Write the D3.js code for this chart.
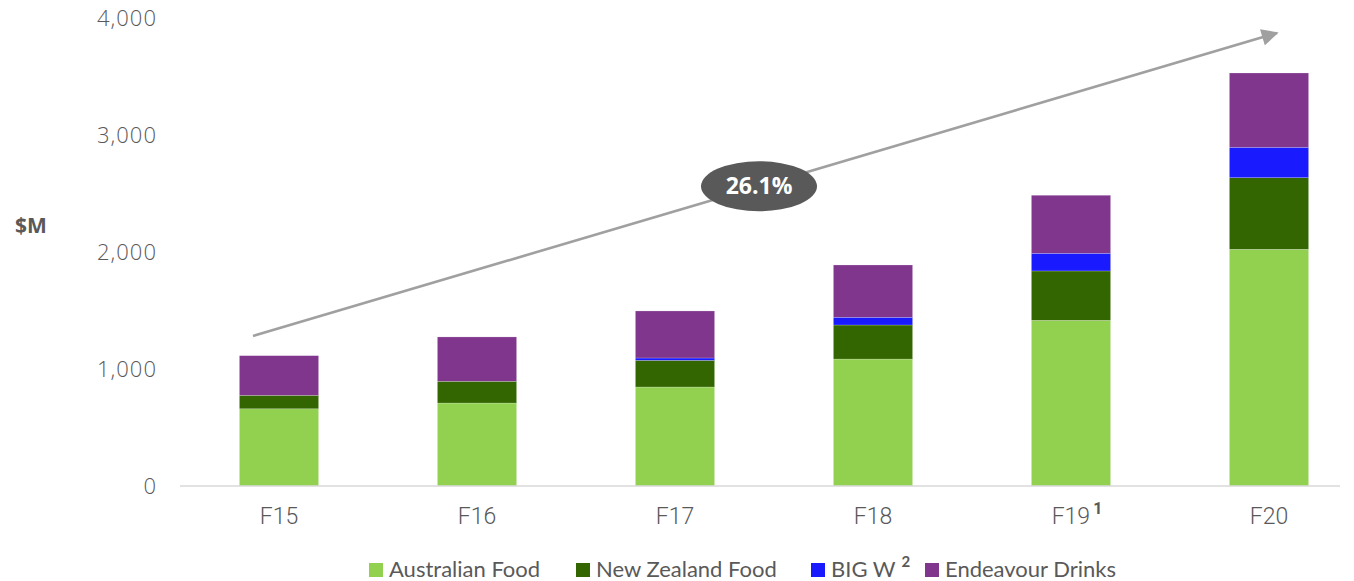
<!DOCTYPE html>
<html>
<head>
<meta charset="utf-8">
<script src="https://cdn.jsdelivr.net/npm/d3@7"></script>
<style>
  html, body { margin: 0; padding: 0; background: #fff; }
  svg { display: block; }
  text { font-family: "Open Sans", "Noto Sans", sans-serif; fill: #595959; }
</style>
</head>
<body>
<svg id="chart" width="1354" height="581"></svg>
<script>
// Years and their footnote markers
const years = ["F15", "F16", "F17", "F18", "F19", "F20"];
const yearNotes = ["", "", "", "", "1", ""];

// Segment values, $M
const australianFood = [660, 709, 846, 1085, 1416, 2023];
const newZealandFood = [115, 186, 228, 291, 422, 612];
const bigW = [0, 0, 20, 66, 151, 260];
const endeavourDrinks = [339, 379, 402, 447, 496, 635];

const seriesNames = ["Australian Food", "New Zealand Food", "BIG W", "Endeavour Drinks"];
const seriesNotes = ["", "", "2", ""];
const seriesColors = ["#92D050", "#336600", "#1A1AFF", "#7F368C"];

const yTicks = [0, 1000, 2000, 3000, 4000];

// Growth arrow: start/end values and the CAGR label
const trendStart = 1282, trendEnd = 3872;
const cagrLabel = "26.1%";

const svg = d3.select("#chart");

const x = d3.scaleBand().domain(years).range([180, 1368]).paddingInner(0.6).paddingOuter(0.3);
const y = d3.scaleLinear().domain([0, 4000]).range([486, 18]);

// Stack the four series
const rows = years.map((yr, i) => ({
  year: yr,
  "Australian Food": australianFood[i],
  "New Zealand Food": newZealandFood[i],
  "BIG W": bigW[i],
  "Endeavour Drinks": endeavourDrinks[i]
}));
const stacked = d3.stack().keys(seriesNames)(rows);

// Y axis labels
const yAxis = d3.axisLeft(y).tickValues(yTicks).tickFormat(d3.format(",")).tickSize(0).tickPadding(0);
const yg = svg.append("g").attr("transform", "translate(157,0)").call(yAxis);
yg.select(".domain").remove();
yg.selectAll("text")
  .style("font-family", "'Open Sans', sans-serif")
  .style("font-size", "22px").style("font-weight", 300)
  .style("letter-spacing", "1px")
  .attr("fill", "#595959");

svg.append("text").attr("x", 15).attr("y", 233)
  .style("font-size", "21px").style("font-weight", 700).text("$M");

// Bars
svg.append("g").selectAll("g").data(stacked).join("g")
  .attr("fill", (d, i) => seriesColors[i])
  .selectAll("rect").data(d => d).join("rect")
  .attr("x", d => x(d.data.year))
  .attr("width", x.bandwidth())
  .attr("y", d => y(d[1]))
  .attr("height", d => y(d[0]) - y(d[1]))
  .attr("stroke", "rgba(255,255,255,0.35)")
  .attr("stroke-width", 0.6);

// X axis line
svg.append("line")
  .attr("x1", 180).attr("x2", 1340).attr("y1", y(0)).attr("y2", y(0))
  .attr("stroke", "#D9D9D9").attr("stroke-width", 1.5);

// X labels
const xl = svg.append("g").selectAll("text").data(years).join("text")
  .attr("x", d => x(d) + x.bandwidth() / 2)
  .attr("y", 524)
  .attr("text-anchor", "middle")
  .style("font-family", "Roboto, sans-serif")
  .style("font-size", "23px").style("font-weight", 300);
xl.append("tspan").text(d => d);
xl.append("tspan")
  .text((d, i) => yearNotes[i])
  .attr("dx", 3)
  .attr("dy", -10).style("font-size", "16px").style("font-weight", 700);
xl.each(function(d, i) {
  if (yearNotes[i]) d3.select(this).attr("x", x(d) + x.bandwidth() / 2 + 6);
});

// Growth arrow
const ax1 = x("F15") + x.bandwidth() / 2 - 26;
const ax2 = x("F20") + x.bandwidth() / 2 + 8;
const ay1 = y(trendStart), ay2 = y(trendEnd);
const defs = svg.append("defs");
defs.append("marker").attr("id", "arrowHead")
  .attr("viewBox", "0 0 10 10").attr("refX", 9).attr("refY", 5)
  .attr("markerWidth", 7).attr("markerHeight", 6.5).attr("markerUnits", "strokeWidth")
  .attr("orient", "auto")
  .append("path").attr("d", "M0,0 L10,5 L0,10 Z").attr("fill", "#A0A0A0");
svg.append("line")
  .attr("x1", ax1).attr("y1", ay1).attr("x2", ax2).attr("y2", ay2)
  .attr("stroke", "#A0A0A0").attr("stroke-width", 2.6)
  .attr("marker-end", "url(#arrowHead)");

// CAGR bubble on the arrow
const bx = 759;
const by = ay1 + (ay2 - ay1) * (bx - ax1) / (ax2 - ax1);
svg.append("ellipse").attr("cx", bx).attr("cy", by).attr("rx", 58).attr("ry", 25)
  .attr("fill", "#595959");
svg.append("text").attr("x", bx).attr("y", by + 8).attr("text-anchor", "middle")
  .style("font-size", "23px").style("font-weight", 700)
  .style("fill", "#FFFFFF").text(cagrLabel);

// Legend
const legendX = [369, 576, 811, 925];
const lg = svg.append("g").selectAll("g").data(seriesNames).join("g")
  .attr("transform", (d, i) => `translate(${legendX[i]},0)`);
lg.append("rect").attr("x", 0).attr("y", 563).attr("width", 14).attr("height", 14)
  .attr("fill", (d, i) => seriesColors[i]);
const lt = lg.append("text").attr("x", 20).attr("y", 577)
  .style("font-family", "Lato, sans-serif").style("font-size", "22px");
lt.append("tspan").text(d => d);
lt.append("tspan").text((d, i) => seriesNotes[i])
  .attr("dx", 6)
  .attr("dy", -10).style("font-size", "15px").style("font-weight", 700);
</script>
</body>
</html>
